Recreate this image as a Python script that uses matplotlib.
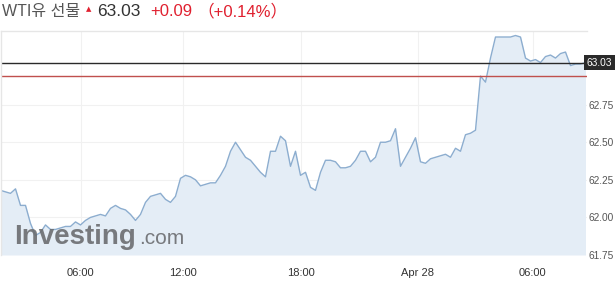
import matplotlib
matplotlib.use("Agg")
import matplotlib.pyplot as plt
import matplotlib.transforms as mtransforms

plt.rcParams['font.family'] = ['Liberation Sans', 'Noto Sans CJK KR', 'DejaVu Sans']

# WTI futures, one point per 15 min
prices = [62.18, 62.17, 62.16, 62.19, 62.08, 62.08, 61.96, 61.88, 61.90, 61.95,
          61.92, 61.92, 61.93, 61.94, 61.94, 61.97, 61.95, 61.98, 62.00, 62.01,
          62.02, 62.01, 62.06, 62.08, 62.06, 62.05, 62.02, 61.98, 62.02, 62.10,
          62.14, 62.15, 62.16, 62.12, 62.10, 62.14, 62.26, 62.28, 62.27, 62.25,
          62.21, 62.22, 62.23, 62.23, 62.28, 62.34, 62.44, 62.50, 62.45, 62.40,
          62.38, 62.34, 62.30, 62.27, 62.44, 62.44, 62.54, 62.51, 62.34, 62.44,
          62.28, 62.30, 62.20, 62.18, 62.30, 62.38, 62.38, 62.37, 62.33, 62.33,
          62.34, 62.38, 62.44, 62.44, 62.37, 62.40, 62.50, 62.50, 62.51, 62.59,
          62.34, 62.40, 62.46, 62.53, 62.37, 62.36, 62.39, 62.40, 62.41, 62.42,
          62.40, 62.46, 62.44, 62.55, 62.56, 62.58, 62.94, 62.90, 63.06, 63.20,
          63.20, 63.20, 63.20, 63.21, 63.20, 63.06, 63.04, 63.05, 63.03, 63.07,
          63.08, 63.06, 63.09, 63.10, 63.01, 63.02, 63.02, 63.03]
last_price = 63.03
prev_close = 62.94
change = "+0.09"
change_pct = "（+0.14%）"
name = "WTI유 선물"

xtick_pos = [16, 36.4, 60, 83.4, 106.4]
xtick_labels = ["06:00", "12:00", "18:00", "Apr 28", "06:00"]
ytick_vals = [61.75, 62.00, 62.25, 62.50, 62.75]

x = list(range(len(prices)))

fig = plt.figure(figsize=(6.15, 2.9), dpi=100)
ax = fig.add_axes([0.5 / 615, 35 / 290, 586 / 615, 224 / 290])

ymin, ymax = 61.75, 63.24
ax.fill_between(x, prices, ymin, color='#e4edf6', lw=0)
ax.plot(x, prices, color='#8cadcf', lw=1)
ax.axhline(last_price, color='#2a2a2a', lw=1)
ax.axhline(prev_close, color='#c0504d', lw=1)

ax.set_xlim(0, 117.2)
ax.set_ylim(ymin, ymax)

ax.set_xticks(xtick_pos)
ax.set_xticklabels(xtick_labels)
ax.set_yticks(ytick_vals)
ax.set_yticklabels(["%.2f" % v for v in ytick_vals])
ax.yaxis.tick_right()
ax.tick_params(axis='y', length=0, pad=1.5, labelsize=7.3, labelcolor='#555555')
ax.tick_params(axis='x', length=0, pad=9, labelsize=8, labelcolor='#333333')
ax.grid(True, color='#f1f1f1', lw=0.8)
ax.set_axisbelow(True)

for s in ['right', 'bottom']:
    ax.spines[s].set_visible(False)
for s in ['left', 'top']:
    ax.spines[s].set_color('#e6e6e6')
    ax.spines[s].set_linewidth(1)

# last price tag on the right
trans = mtransforms.blended_transform_factory(ax.transAxes, ax.transData)
ax.text(1.0, last_price, "%.2f" % last_price, transform=trans, ha='left', va='center',
        fontsize=7.3, color='white', clip_on=False,
        bbox=dict(boxstyle='square,pad=0.25', fc='#2a2a2a', ec='none'))

# watermark
ax.text(0.024, 0.05, "Investing", transform=ax.transAxes, fontsize=20, fontweight='bold',
        color='#6b6d70', alpha=0.9, ha='left', va='baseline')
ax.text(0.236, 0.05, ".com", transform=ax.transAxes, fontsize=15,
        color='#6b6d70', alpha=0.9, ha='left', va='baseline')

# header
ty = 1 - 16 / 290
fig.text(2 / 615, ty, name, fontsize=11.5, color='#555555', va='baseline')
fig.text(86 / 615, 1 - 11 / 290, "▲", fontsize=5, color='#e0202f', va='baseline',
         family=['DejaVu Sans'])
fig.text(97 / 615, ty, "%.2f" % last_price, fontsize=12.5, color='#333333', va='baseline')
fig.text(150 / 615, ty, change, fontsize=12, color='#e0202f', va='baseline')
fig.text(197 / 615, ty, change_pct, fontsize=12, color='#e0202f', va='baseline')

fig.savefig("out.png", dpi=100)
